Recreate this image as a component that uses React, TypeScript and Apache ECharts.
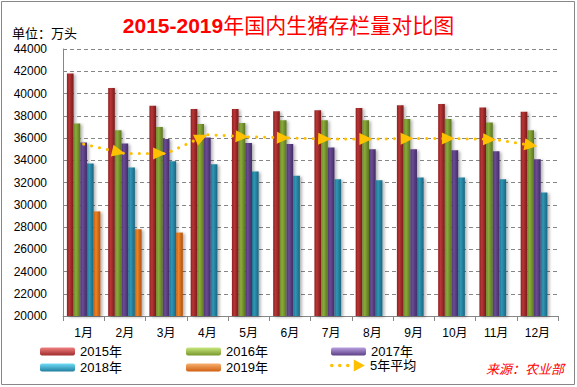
import React, { useEffect, useRef } from 'react';
import * as echarts from 'echarts';

const months = ['1月', '2月', '3月', '4月', '5月', '6月', '7月', '8月', '9月', '10月', '11月', '12月'];
const y2015 = [41800, 40500, 38900, 38600, 38600, 38400, 38500, 38700, 38950, 39050, 38750, 38350];
const y2016 = [37300, 36700, 37000, 37250, 37350, 37600, 37600, 37600, 37700, 37700, 37400, 36700];
const y2017 = [35600, 35500, 35900, 36050, 35550, 35450, 35150, 35000, 35000, 34900, 34800, 34100];
const y2018 = [33700, 33350, 33900, 33650, 33000, 32600, 32300, 32200, 32450, 32450, 32300, 31100];
const y2019: (number | null)[] = [29400, 27800, 27500, null, null, null, null, null, null, null, null, null];
const avg5 = [35450, 34600, 34600, 36300, 36100, 36000, 35900, 35900, 35950, 35950, 35850, 35250];
const yMin = 20000;
const yMax = 44000;
const yStep = 2000;

const FONT = "'Liberation Sans', 'Noto Sans CJK SC', sans-serif";

export default function App() {
  const ref = useRef<HTMLDivElement>(null);
  useEffect(() => {
    document.body.style.margin = '0';
    const chart = echarts.init(ref.current!, null, { renderer: 'svg' });
    const hGrad = (l: string, m: string, r: string) =>
      new echarts.graphic.LinearGradient(0, 0, 1, 0, [
        { offset: 0, color: l },
        { offset: 0.35, color: m },
        { offset: 1, color: r },
      ]);
    const vGrad = (t: string, b: string) =>
      new echarts.graphic.LinearGradient(0, 0, 0, 1, [
        { offset: 0, color: t },
        { offset: 1, color: b },
      ]);
    const palette = [
      { name: '2015年', data: y2015, bar: hGrad('#8f2020', '#b83636', '#7a1a1a'), leg: vGrad('#f08080', '#a02c2c') },
      { name: '2016年', data: y2016, bar: hGrad('#6b8a26', '#8aab3a', '#5a7520'), leg: vGrad('#c8e880', '#78982c') },
      { name: '2017年', data: y2017, bar: hGrad('#4f3575', '#6a4c94', '#432c66'), leg: vGrad('#b8a0e0', '#5e3f86') },
      { name: '2018年', data: y2018, bar: hGrad('#1f7590', '#2f97b5', '#1a6580'), leg: vGrad('#70dcf8', '#1f7f9f') },
      { name: '2019年', data: y2019, bar: hGrad('#c85e10', '#ee8426', '#b05010'), leg: vGrad('#f8b070', '#d06010') },
    ];
    const shadow = { shadowColor: 'rgba(0,0,0,0.3)', shadowBlur: 3, shadowOffsetX: 2, shadowOffsetY: 1 };
    const barSeries = palette.map((p) => ({
      type: 'bar',
      name: p.name,
      data: p.data,
      barGap: '0%',
      barCategoryGap: '19%',
      itemStyle: { color: p.bar, ...shadow },
    }));
    const legendPos = [
      { left: 40, top: 345 },
      { left: 186, top: 345 },
      { left: 331, top: 345 },
      { left: 40, top: 361 },
      { left: 186, top: 361 },
    ];
    const legends: any[] = palette.map((p, i) => ({
      left: legendPos[i].left,
      top: legendPos[i].top,
      padding: 0,
      selectedMode: false,
      itemWidth: 35,
      itemHeight: 8,
      textStyle: { fontSize: 13, color: '#000', fontFamily: FONT },
      data: [{ name: p.name, icon: 'roundRect', itemStyle: { color: p.leg } }],
    }));
    legends.push({
      left: 330,
      top: 359,
      padding: 0,
      selectedMode: false,
      itemWidth: 35,
      itemHeight: 12,
      textStyle: { fontSize: 13, color: '#000', fontFamily: FONT },
      data: [
        {
          name: '5年平均',
          icon:
            'path://M0.2,6a1.8,1.8 0 1,0 3.6,0a1.8,1.8 0 1,0 -3.6,0Z M8.2,6a1.8,1.8 0 1,0 3.6,0a1.8,1.8 0 1,0 -3.6,0Z M16.2,6a1.8,1.8 0 1,0 3.6,0a1.8,1.8 0 1,0 -3.6,0Z M24,0L35,6L24,12Z',
          itemStyle: { color: '#FFC000' },
        },
      ],
    });

    const option: any = {
      animation: false,
      backgroundColor: '#fff',
      textStyle: { fontFamily: FONT },
      title: {
        text: '{a|2015-2019}{b|年国内生猪存栏量对比图}',
        left: 'center',
        top: 15,
        padding: 0,
        textStyle: {
          fontSize: 21,
          color: '#FF0000',
          fontFamily: FONT,
          rich: {
            a: { fontSize: 21, fontWeight: 'bold', color: '#FF0000', fontFamily: FONT },
            b: { fontSize: 21, fontWeight: 'normal', color: '#FF0000', fontFamily: FONT },
          },
        },
      },
      legend: legends,
      grid: { left: 63, right: 19, top: 49, bottom: 71, containLabel: false },
      xAxis: {
        type: 'category',
        data: months,
        axisLine: { lineStyle: { color: '#868686' } },
        axisTick: { show: true, length: 5, lineStyle: { color: '#868686' } },
        axisLabel: { margin: 11, fontSize: 12, color: '#000', fontFamily: FONT },
      },
      yAxis: {
        type: 'value',
        min: yMin,
        max: yMax,
        interval: yStep,
        axisLine: { show: true, lineStyle: { color: '#868686' } },
        axisTick: { show: false },
        axisLabel: {
          margin: 16,
          fontSize: 12,
          color: '#000',
          fontFamily: FONT,
          formatter: (v: number) => String(v),
        },
        splitLine: { lineStyle: { color: '#868686', type: [4, 3] } },
      },
      graphic: [
        {
          type: 'rect',
          shape: { x: 1.5, y: 1.5, width: 573, height: 383 },
          style: { fill: 'none', stroke: '#888', lineWidth: 1 },
          silent: true,
        },
        {
          type: 'text',
          x: 12,
          y: 33,
          style: { text: '单位：万头', fill: '#000', font: `13px ${FONT}`, verticalAlign: 'middle' },
        },
        {
          type: 'text',
          x: 486,
          y: 369,
          style: {
            text: '来源：农业部',
            fill: '#FF0000',
            font: `italic 13px ${FONT}`,
            verticalAlign: 'middle',
          },
        },
      ],
      series: [
        ...barSeries,
        {
          id: 'avg',
          type: 'line',
          name: '5年平均',
          data: avg5,
          symbol: 'none',
          showAllSymbol: true,
          itemStyle: { color: '#FFC000' },
          lineStyle: { color: '#FFC000', width: 3, type: [0.1, 8], cap: 'round' },
          z: 5,
        },
      ],
    };
    chart.setOption(option);

    const pts = avg5.map((v, i) => chart.convertToPixel({ xAxisIndex: 0, yAxisIndex: 0 }, [i, v]) as number[]);
    const L = 13;
    const lineData = avg5.map((v, i) => {
      if (i === 0) return { value: v, symbol: 'none' };
      const [x0, y0] = pts[i - 1];
      const [x1, y1] = pts[i];
      const phi = Math.atan2(y1 - y0, x1 - x0);
      return {
        value: v,
        symbol: 'triangle',
        symbolSize: [12, L],
        symbolRotate: -90 - (phi * 180) / Math.PI,
        symbolOffset: [-(L / 2) * Math.cos(phi), -(L / 2) * Math.sin(phi)],
      };
    });
    chart.setOption({ series: [{ id: 'avg', data: lineData }] });

    return () => chart.dispose();
  }, []);
  return <div ref={ref} style={{ width: 577, height: 387 }} />;
}
